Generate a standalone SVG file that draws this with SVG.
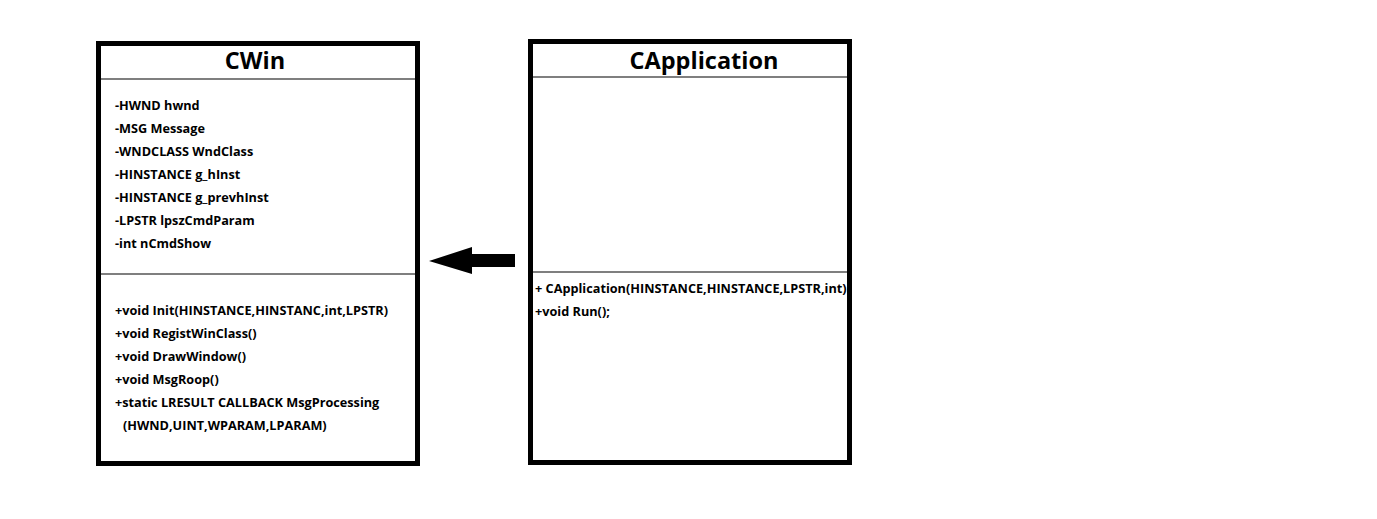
<svg xmlns="http://www.w3.org/2000/svg" width="1377" height="519" viewBox="0 0 1377 519">
<style>
.box{fill:#fff;stroke:#000;stroke-width:5}
.sep{stroke:#000;stroke-width:1.2}
.title{font-family:"Open Sans","Noto Sans",sans-serif;font-weight:bold;font-size:23.5px;fill:#000;text-anchor:middle}
.t{font-family:"Open Sans","Noto Sans",sans-serif;font-weight:bold;font-size:12.7px;fill:#000}
</style>
<rect x="0" y="0" width="1377" height="519" fill="#fff"/>
<g id="CWin">
<rect class="box" x="98.5" y="43.5" width="319" height="420"/>
<line class="sep" x1="101" y1="79" x2="415" y2="79"/>
<line class="sep" x1="101" y1="274" x2="415" y2="274"/>
<text class="title" x="255" y="69">CWin</text>
<text class="t" x="115" y="110">-HWND hwnd</text>
<text class="t" x="115" y="133">-MSG Message</text>
<text class="t" x="115" y="156">-WNDCLASS WndClass</text>
<text class="t" x="115" y="179">-HINSTANCE g_hInst</text>
<text class="t" x="115" y="202">-HINSTANCE g_prevhInst</text>
<text class="t" x="115" y="225">-LPSTR lpszCmdParam</text>
<text class="t" x="115" y="248">-int nCmdShow</text>
<text class="t" x="115" y="315">+void Init(HINSTANCE,HINSTANC,int,LPSTR)</text>
<text class="t" x="115" y="338">+void RegistWinClass()</text>
<text class="t" x="115" y="361">+void DrawWindow()</text>
<text class="t" x="115" y="384">+void MsgRoop()</text>
<text class="t" x="115" y="407">+static LRESULT CALLBACK MsgProcessing</text>
<text class="t" x="123" y="430">(HWND,UINT,WPARAM,LPARAM)</text>
</g>
<g id="CApplication">
<rect class="box" x="530.5" y="41.5" width="319" height="421"/>
<line class="sep" x1="533" y1="77" x2="847" y2="77"/>
<line class="sep" x1="533" y1="272" x2="847" y2="272"/>
<text class="title" x="704" y="69">CApplication</text>
<text class="t" x="535" y="293">+  CApplication(HINSTANCE,HINSTANCE,LPSTR,int)</text>
<text class="t" x="535" y="316">+void Run();</text>
</g>
<g id="connectors">
<polygon points="515,254 472,254 472,247 429,261 472,274 472,267 515,267" fill="#000"/>
</g>
</svg>
